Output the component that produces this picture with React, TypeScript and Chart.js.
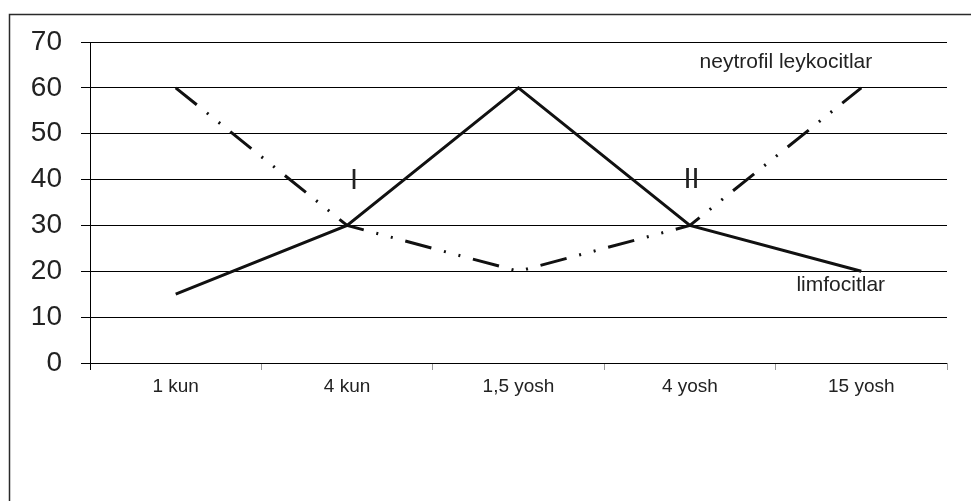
import React, { useEffect, useRef } from "react";
import { Chart, registerables } from "chart.js";

Chart.register(...registerables);

const categories = ["1 kun", "4 kun", "1,5 yosh", "4 yosh", "15 yosh"];
const neytrofilValues = [60, 30, 20, 30, 60];
const limfocitlarValues = [15, 30, 60, 30, 20];
const yMin = 0;
const yMax = 70;
const yStep = 10;

const noteTexts = ["neytrofil leykocitlar", "limfocitlar", "I", "II"];
const noteCategoryPos = [3.56, 3.88, 1.04, 3.01];
const noteValuePos = [65.6, 16.9, 39.7, 39.9];
const noteFontSizes = [21, 21, 29, 29];

const FONT = "'Liberation Sans', Arial, sans-serif";

const frameAndNotes = {
  id: "frameAndNotes",
  beforeDraw(chart: any) {
    const ctx = chart.ctx;
    ctx.save();
    ctx.fillStyle = "#ffffff";
    ctx.fillRect(0, 0, chart.width, chart.height);
    ctx.strokeStyle = "#2a2a2a";
    ctx.lineWidth = 1.5;
    ctx.beginPath();
    ctx.moveTo(9.5, chart.height);
    ctx.lineTo(9.5, 14.5);
    ctx.lineTo(chart.width, 14.5);
    ctx.stroke();
    ctx.restore();
  },
  afterDatasetsDraw(chart: any) {
    const ctx = chart.ctx;
    const xs = chart.scales.x;
    const ys = chart.scales.y;
    ctx.save();
    ctx.fillStyle = "#222";
    ctx.textAlign = "center";
    ctx.textBaseline = "middle";
    noteTexts.forEach((t, i) => {
      ctx.font = `${noteFontSizes[i]}px ${FONT}`;
      ctx.fillText(t, xs.getPixelForValue(noteCategoryPos[i]), ys.getPixelForValue(noteValuePos[i]));
    });
    ctx.restore();
  },
};

export default function App() {
  const ref = useRef<HTMLCanvasElement | null>(null);
  useEffect(() => {
    if (!ref.current) return;
    const chart = new Chart(ref.current, {
      type: "line",
      data: {
        labels: categories,
        datasets: [
          {
            label: "neytrofil leykocitlar",
            data: neytrofilValues,
            borderColor: "#111",
            borderWidth: 3,
            borderDash: [27, 13, 2, 13, 2, 13],
            borderCapStyle: "butt",
            pointRadius: 0,
            tension: 0,
            fill: false,
          },
          {
            label: "limfocitlar",
            data: limfocitlarValues,
            borderColor: "#111",
            borderWidth: 3,
            pointRadius: 0,
            tension: 0,
            fill: false,
          },
        ],
      },
      options: {
        animation: false,
        responsive: false,
        maintainAspectRatio: false,
        devicePixelRatio: 1,
        layout: { padding: { top: 42, right: 24, left: 0, bottom: 0 } },
        plugins: {
          legend: { display: false },
          tooltip: { enabled: false },
          title: { display: false },
        },
        scales: {
          x: {
            offset: true,
            grid: {
              offset: true,
              drawOnChartArea: false,
              drawTicks: true,
              tickLength: 7,
              color: (c: any) => (c.index === 0 ? "#000" : "#999"),
              lineWidth: 1,
            },
            border: { display: false },
            ticks: {
              color: "#222",
              font: { size: 19, family: FONT },
              padding: 5,
              maxRotation: 0,
              autoSkip: false,
            },
            afterFit(scale: any) {
              scale.height = 138;
            },
          },
          y: {
            min: yMin,
            max: yMax,
            grid: {
              color: "#000",
              lineWidth: 1,
              tickLength: 9,
              drawTicks: true,
            },
            border: { display: true, color: "#000", width: 1 },
            ticks: {
              stepSize: yStep,
              color: "#222",
              font: { size: 28, family: FONT },
              padding: 19,
            },
            afterFit(scale: any) {
              scale.width = 90;
            },
          },
        },
      },
      plugins: [frameAndNotes],
    });
    return () => chart.destroy();
  }, []);
  return (
    <div style={{ position: "fixed", left: 0, top: 0, width: 971, height: 501 }}>
      <canvas ref={ref} width={971} height={501} style={{ width: 971, height: 501, display: "block" }} />
    </div>
  );
}
